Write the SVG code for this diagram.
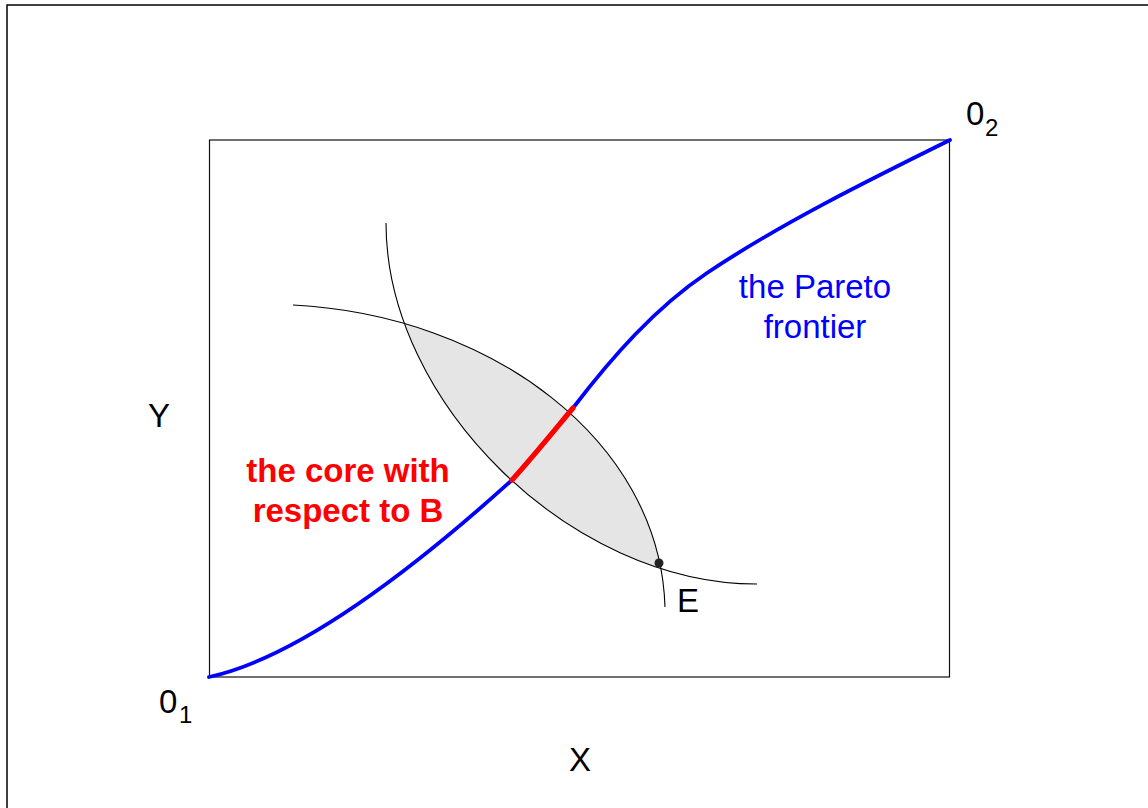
<svg xmlns="http://www.w3.org/2000/svg" width="1148" height="808" viewBox="0 0 1148 808">
<style>
text{font-family:"Liberation Sans",Arial,sans-serif;font-size:33px;fill:#000}
text.sub{font-size:24px}
.frame{fill:none;stroke:#000;stroke-width:1.5}
.box{fill:none;stroke:#111;stroke-width:1.2}
.ic{fill:none;stroke:#000;stroke-width:1.1}
.pareto{fill:none;stroke:#0000ff;stroke-width:3.8;stroke-linecap:round;stroke-linejoin:round}
.core{fill:none;stroke:#ff0000;stroke-width:5.2;stroke-linecap:round}
.blue{fill:#0000ff}
.red{fill:#ff0000;font-weight:bold}
</style>
<defs>
<clipPath id="clipA"><path d="M293,305 C490,315 660,440 665,607 L200,607 L200,305 Z"/></clipPath>
</defs>
<rect width="1148" height="808" fill="#fff"/>
<rect class="frame" x="7" y="5" width="1200" height="900"/>
<g id="box"><rect class="box" x="209.5" y="140" width="740" height="537"/></g>
<g id="lens"><path d="M386,223 C386,403 571,584 757,584 L757,223 Z" fill="#e5e5e5" clip-path="url(#clipA)"/></g>
<g id="connectors">
<path id="ic2" class="ic" d="M293,305 C490,315 660,440 665,607"/>
<path id="ic1" class="ic" d="M386,223 C386,403 571,584 757,584"/>
<path id="pareto" class="pareto" d="M209,677 C310,655 440,545 512,480 M573,408 C612,357 655,308 707,273 C780,224 869,180 950,140"/>
<path id="core" class="core" d="M512,480 C532,458 553,432 573,408"/>
</g>
<g id="E"><circle cx="659" cy="563" r="4.5" fill="#222"/><text x="677" y="612">E</text></g>
<g id="labels">
<text x="580" y="771" text-anchor="middle">X</text>
<text x="159" y="427" text-anchor="middle">Y</text>
<text x="159" y="713">0</text><text class="sub" x="179" y="723">1</text>
<text x="966" y="125">0</text><text class="sub" x="985" y="136">2</text>
<text class="blue" x="815" y="298" text-anchor="middle">the Pareto</text>
<text class="blue" x="815" y="338" text-anchor="middle">frontier</text>
<text class="red" x="348" y="482" text-anchor="middle">the core with</text>
<text class="red" x="348" y="522" text-anchor="middle">respect to B</text>
</g>
</svg>
